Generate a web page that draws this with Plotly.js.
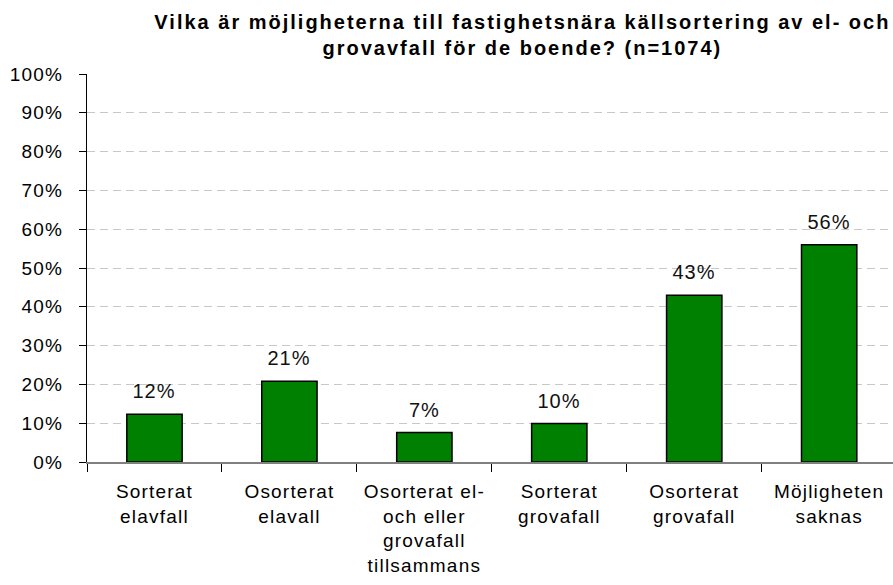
<!DOCTYPE html>
<html>
<head>
<meta charset="utf-8">
<script src="https://cdn.plot.ly/plotly-3.0.1.min.js"></script>
<style>
  body { margin: 0; background: #fff; }
  #chart text { letter-spacing: 1.2px; }
  #chart .gtitle { letter-spacing: 2px; }
  #chart .annotation-text { letter-spacing: 1px; }
</style>
</head>
<body>
<div id="chart" style="width:893px;height:585px;"></div>
<script>
var CHART = document.getElementById('chart');

var categories = [
  'Sorterat<br>elavfall',
  'Osorterat<br>elavall',
  'Osorterat el-<br>och eller<br>grovafall<br>tillsammans',
  'Sorterat<br>grovafall',
  'Osorterat<br>grovafall',
  'Möjligheten<br>saknas'
];
var values = [12.3, 20.8, 7.6, 9.9, 43.0, 56.0];
var valueLabels = ['12%', '21%', '7%', '10%', '43%', '56%'];

var trace = {
  x: categories,
  y: values,
  type: 'bar',
  width: 0.41,
  hoverinfo: 'none',
  marker: {
    color: '#008000',
    line: {color: '#000000', width: 1.5}
  }
};

var labels = categories.map(function (c, i) {
  return {
    x: c, y: values[i], text: valueLabels[i],
    xref: 'x', yref: 'y', yanchor: 'bottom', yshift: 10,
    showarrow: false,
    font: {family: 'Liberation Sans, Arial, sans-serif', size: 20, color: '#111'}
  };
});

var layout = {
  width: 893,
  height: 585,
  margin: {l: 87, r: 0, t: 74, b: 123},
  paper_bgcolor: '#ffffff',
  plot_bgcolor: '#ffffff',
  showlegend: false,
  font: {family: 'Liberation Sans, Arial, sans-serif', size: 19, color: '#000'},
  title: {
    text: 'Vilka är möjligheterna till fastighetsnära källsortering av el- och<br>grovavfall för de boende? (n=1074)',
    font: {size: 20, weight: 'bold', color: '#000'},
    xref: 'container', x: 0.585, xanchor: 'center',
    yref: 'container', y: 0.95, yanchor: 'top'
  },
  xaxis: {
    type: 'category',
    range: [-0.5, 5.473],
    showline: true,
    linecolor: '#808080',
    linewidth: 2,
    ticks: 'outside',
    tickson: 'boundaries',
    ticklen: 8,
    tickcolor: '#000',
    ticklabelstandoff: 11,
    showgrid: false,
    fixedrange: true
  },
  yaxis: {
    range: [0, 100],
    dtick: 10,
    ticksuffix: '%',
    showline: true,
    linecolor: '#000',
    linewidth: 1,
    ticks: 'outside',
    ticklen: 7,
    tickcolor: '#000',
    ticklabelstandoff: 12,
    showgrid: true,
    gridcolor: '#c8c8c8',
    griddash: '8px,5px',
    zeroline: false,
    fixedrange: true
  },
  annotations: labels
};

Plotly.newPlot(CHART, [trace], layout, {displayModeBar: false, staticPlot: true});
</script>
</body>
</html>
